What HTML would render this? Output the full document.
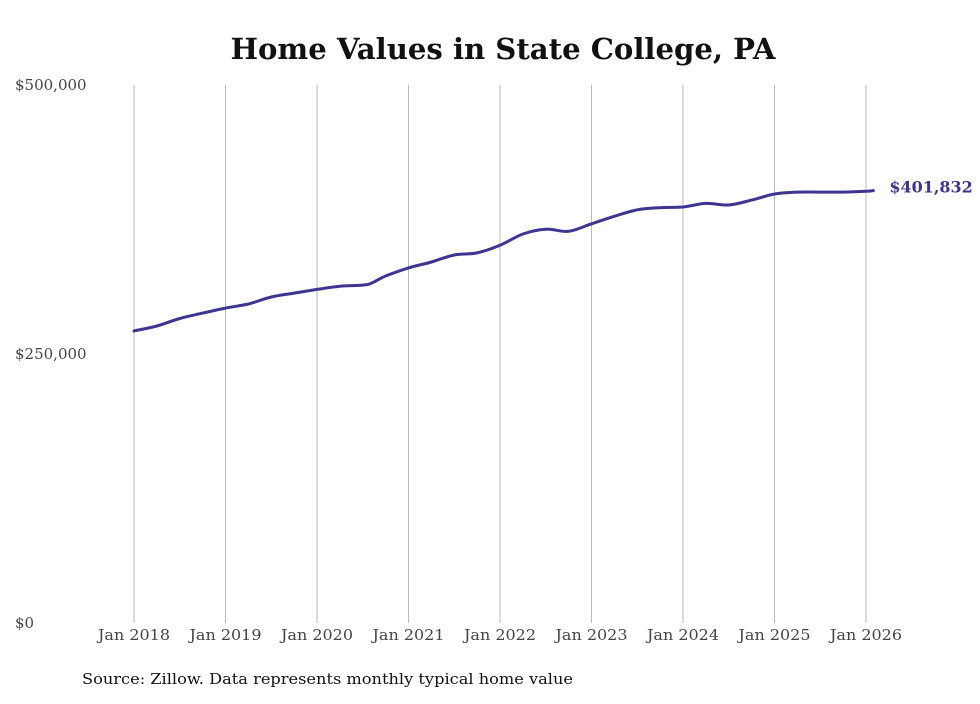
<!DOCTYPE html>
<html><head><meta charset="utf-8"><style>
html,body{margin:0;padding:0;background:#fff;}
body{width:980px;height:699px;overflow:hidden;}
</style></head><body>
<svg id="chart" width="980" height="699" xmlns="http://www.w3.org/2000/svg">
<text x="503" y="59" text-anchor="middle" font-family="DejaVu Serif, Liberation Serif, serif" font-weight="bold" font-size="29" fill="#111" textLength="545" lengthAdjust="spacingAndGlyphs">Home Values in State College, PA</text>
<g id="grid"></g><g id="yaxis"></g><g id="xaxis"></g><g id="series"></g>
<text x="82" y="684" font-family="DejaVu Serif, Liberation Serif, serif" font-size="15" fill="#111" textLength="491" lengthAdjust="spacingAndGlyphs">Source: Zillow. Data represents monthly typical home value</text>
</svg>
<script>
const yTicks=[0,250000,500000];
const yTickLabels=["$0","$250,000","$500,000"];
const xTicks=[2018,2019,2020,2021,2022,2023,2024,2025,2026];
const xTickLabels=["Jan 2018","Jan 2019","Jan 2020","Jan 2021","Jan 2022","Jan 2023","Jan 2024","Jan 2025","Jan 2026"];
const dates=[2018.0,2018.25,2018.5,2018.75,2019.0,2019.25,2019.5,2019.75,2020.0,2020.25,2020.5,2020.6,2020.75,2021.0,2021.25,2021.5,2021.75,2022.0,2022.25,2022.5,2022.75,2023.0,2023.25,2023.5,2023.75,2024.0,2024.25,2024.5,2024.75,2025.0,2025.25,2025.5,2025.75,2026.0,2026.08];
const values=[271400,276000,283000,288000,292700,296500,303000,306600,310000,313000,314000,316000,322500,330000,335500,342000,344000,351000,361500,366000,364000,371000,378000,384000,386000,386600,390000,388500,393000,398700,400500,400500,400500,401200,401832];
const endLabel="$401,832";
const NS="http://www.w3.org/2000/svg";
const x=v=>134+(v-2018)*91.5;
const y=v=>623-v/500000*538;
function mk(tag,attrs,parent,txt){const e=document.createElementNS(NS,tag);for(const k in attrs)e.setAttribute(k,attrs[k]);if(txt!==undefined)e.textContent=txt;parent.appendChild(e);return e;}
const grid=document.getElementById('grid'),ya=document.getElementById('yaxis'),xa=document.getElementById('xaxis'),se=document.getElementById('series');
xTicks.forEach((t,i)=>{
 const l=mk('line',{x1:x(t),x2:x(t),y1:y(500000),y2:y(0),stroke:'#bbb','stroke-width':1},grid);
 
 
 const tx=mk('text',{x:x(t),y:640,'text-anchor':'middle','font-family':'DejaVu Serif, Liberation Serif, serif','font-size':15,fill:'#444',textLength:72,lengthAdjust:'spacingAndGlyphs'},xa,xTickLabels[i]);
 
 
});
yTicks.forEach((t,i)=>{
 const tx=mk('text',{x:15,y:y(t)+5,'font-family':'DejaVu Serif, Liberation Serif, serif','font-size':15,fill:'#444'},ya,yTickLabels[i]);
 
 
});
const pts=dates.map((t,i)=>[x(t),y(values[i])]);
let d='M'+pts[0][0].toFixed(1)+','+pts[0][1].toFixed(1);
for(let i=0;i<pts.length-1;i++){
 const p0=pts[Math.max(0,i-1)],p1=pts[i],p2=pts[i+1],p3=pts[Math.min(pts.length-1,i+2)];
 const c1=[p1[0]+(p2[0]-p0[0])/6,p1[1]+(p2[1]-p0[1])/6],c2=[p2[0]-(p3[0]-p1[0])/6,p2[1]-(p3[1]-p1[1])/6];
 d+='C'+c1.map(v=>v.toFixed(1)).join(',')+' '+c2.map(v=>v.toFixed(1)).join(',')+' '+p2.map(v=>v.toFixed(1)).join(',');
}
const p=mk('path',{d:d,fill:'none',stroke:'#3d3590','stroke-width':3,'stroke-linejoin':'round','stroke-linecap':'round'},se);


const n=dates.length-1;
const el=mk('text',{x:x(dates[n])+16,y:y(values[n])+2,'font-family':'DejaVu Serif, Liberation Serif, serif','font-weight':'bold','font-size':16,fill:'#3d3590'},se,endLabel);


</script>
</body></html>
